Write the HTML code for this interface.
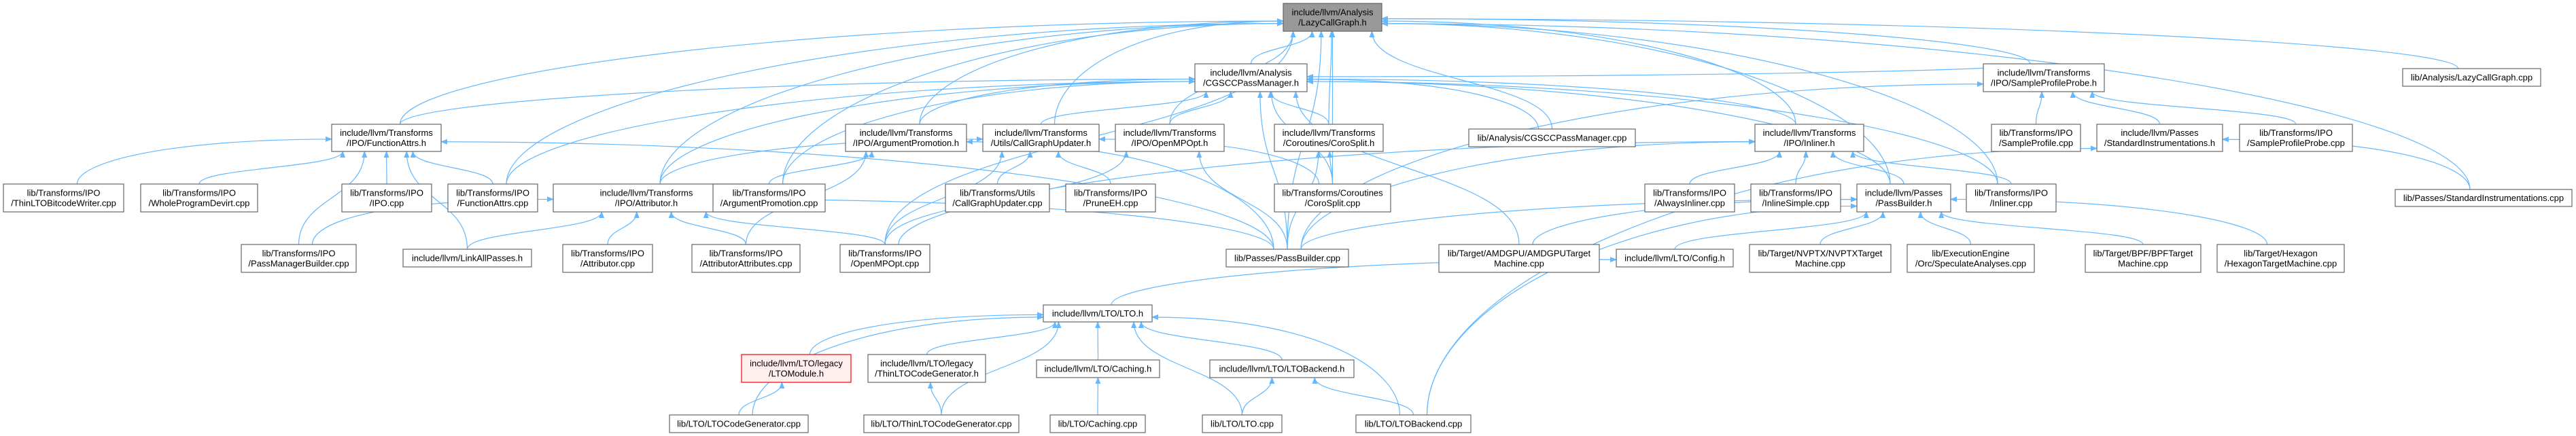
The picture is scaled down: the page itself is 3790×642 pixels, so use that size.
<!DOCTYPE html>
<html><head><meta charset="utf-8"><style>
html,body{margin:0;padding:0;background:#fff;width:3790px;height:642px;overflow:hidden}
svg text{font-family:"Liberation Sans",Arial,sans-serif;font-size:13px;fill:#000}
</style></head><body>
<svg id="g" width="3790" height="642" xmlns="http://www.w3.org/2000/svg">
<defs><marker id="ah" markerWidth="10" markerHeight="8" refX="9" refY="4" orient="auto" markerUnits="userSpaceOnUse"><path d="M0,0 L10,4 L0,8 z" fill="#63b8ff"/></marker></defs>
<g id="edges" fill="none" stroke="#63b8ff" stroke-width="1.2"></g>
<g id="nodes"></g>
</svg>
<script>
var R1=[5,46],R2=[94,135],R3=[183,223],R4=[271,312],R5=[360,401],R7=[522,563];
var N={
LCG:[1888,2033,5,46,["include/llvm/Analysis","/LazyCallGraph.h"],"hl"],
CGSCC:[1758,1923,94,135,["include/llvm/Analysis","/CGSCCPassManager.h"]],
SPPh:[2918,3096,94,135,["include/llvm/Transforms","/IPO/SampleProfileProbe.h"]],
LCGcpp:[3535,3738,101,127,["lib/Analysis/LazyCallGraph.cpp"]],
FAh:[488,649,183,223,["include/llvm/Transforms","/IPO/FunctionAttrs.h"]],
APh:[1244,1422,183,223,["include/llvm/Transforms","/IPO/ArgumentPromotion.h"]],
CGUh:[1446,1617,183,223,["include/llvm/Transforms","/Utils/CallGraphUpdater.h"]],
OMPh:[1641,1801,183,223,["include/llvm/Transforms","/IPO/OpenMPOpt.h"]],
COh:[1875,2035,183,223,["include/llvm/Transforms","/Coroutines/CoroSplit.h"]],
CGSCCcpp:[2161,2406,190,216,["lib/Analysis/CGSCCPassManager.cpp"]],
INh:[2582,2742,183,223,["include/llvm/Transforms","/IPO/Inliner.h"]],
SPcpp:[2930,3061,183,223,["lib/Transforms/IPO","/SampleProfile.cpp"]],
SIh:[3085,3270,183,223,["include/llvm/Passes","/StandardInstrumentations.h"]],
SPPcpp:[3295,3461,183,223,["lib/Transforms/IPO","/SampleProfileProbe.cpp"]],
TLBW:[5,182,271,312,["lib/Transforms/IPO","/ThinLTOBitcodeWriter.cpp"]],
WPD:[207,379,271,312,["lib/Transforms/IPO","/WholeProgramDevirt.cpp"]],
IPO:[503,635,271,312,["lib/Transforms/IPO","/IPO.cpp"]],
FAcpp:[659,791,271,312,["lib/Transforms/IPO","/FunctionAttrs.cpp"]],
ATh:[814,1088,271,312,["include/llvm/Transforms","/IPO/Attributor.h"]],
APcpp:[1049,1214,271,312,["lib/Transforms/IPO","/ArgumentPromotion.cpp"]],
CGUcpp:[1391,1544,271,312,["lib/Transforms/Utils","/CallGraphUpdater.cpp"]],
PEH:[1568,1700,271,312,["lib/Transforms/IPO","/PruneEH.cpp"]],
COcpp:[1875,2046,271,312,["lib/Transforms/Coroutines","/CoroSplit.cpp"]],
AIcpp:[2420,2552,271,312,["lib/Transforms/IPO","/AlwaysInliner.cpp"]],
ISh:[2576,2708,271,312,["lib/Transforms/IPO","/InlineSimple.cpp"]],
PBh:[2732,2870,271,312,["include/llvm/Passes","/PassBuilder.h"]],
INcpp:[2893,3025,271,312,["lib/Transforms/IPO","/Inliner.cpp"]],
SIcpp:[3524,3784,279,304,["lib/Passes/StandardInstrumentations.cpp"]],
PMB:[355,524,360,401,["lib/Transforms/IPO","/PassManagerBuilder.cpp"]],
LAP:[593,782,367,393,["include/llvm/LinkAllPasses.h"]],
ATcpp:[828,960,360,401,["lib/Transforms/IPO","/Attributor.cpp"]],
AAcpp:[1018,1177,360,401,["lib/Transforms/IPO","/AttributorAttributes.cpp"]],
OMPcpp:[1236,1368,360,401,["lib/Transforms/IPO","/OpenMPOpt.cpp"]],
PBcpp:[1804,1984,367,393,["lib/Passes/PassBuilder.cpp"]],
AMD:[2117,2353,360,401,["lib/Target/AMDGPU/AMDGPUTarget","Machine.cpp"]],
CFG:[2378,2550,367,393,["include/llvm/LTO/Config.h"]],
NVP:[2574,2782,360,401,["lib/Target/NVPTX/NVPTXTarget","Machine.cpp"]],
SPA:[2806,2993,360,401,["lib/ExecutionEngine","/Orc/SpeculateAnalyses.cpp"]],
BPF:[3068,3238,360,401,["lib/Target/BPF/BPFTarget","Machine.cpp"]],
HEX:[3262,3449,360,401,["lib/Target/Hexagon","/HexagonTargetMachine.cpp"]],
LTOh:[1535,1695,449,474,["include/llvm/LTO/LTO.h"]],
LMh:[1091,1252,522,563,["include/llvm/LTO/legacy","/LTOModule.h"],"red"],
TLCGh:[1277,1450,522,563,["include/llvm/LTO/legacy","/ThinLTOCodeGenerator.h"]],
CAh:[1525,1706,530,556,["include/llvm/LTO/Caching.h"]],
LBh:[1780,1992,530,556,["include/llvm/LTO/LTOBackend.h"]],
LCGcpp2:[985,1189,611,637,["lib/LTO/LTOCodeGenerator.cpp"]],
TLCGcpp:[1271,1499,611,637,["lib/LTO/ThinLTOCodeGenerator.cpp"]],
CAcpp:[1545,1685,611,637,["lib/LTO/Caching.cpp"]],
LTOcpp:[1769,1886,611,637,["lib/LTO/LTO.cpp"]],
LBcpp:[1995,2164,611,637,["lib/LTO/LTOBackend.cpp"]]
};
var E={
LCG:["CGSCC","FAh","ATh","APh","CGUh","OMPh","COh","CGSCCcpp","INh","PBh","SPPh","LCGcpp","SIcpp","INcpp","PBcpp","APcpp","FAcpp","OMPcpp","COcpp"],
CGSCC:["FAh","ATh","APh","CGUh","OMPh","COh","CGSCCcpp","INh","PBh","SPPh","PBcpp","AMD","INcpp","APcpp","FAcpp","COcpp"],
FAh:["TLBW","WPD","IPO","FAcpp","PMB","LAP","PBcpp"],
ATh:["PMB","LAP","ATcpp","AAcpp","OMPcpp","PBcpp"],
APh:["APcpp","AAcpp","PBcpp"],
CGUh:["ATh","CGUcpp","PEH","OMPcpp","COcpp"],
OMPh:["OMPcpp","PBcpp"],
COh:["COcpp","PBcpp"],
INh:["AIcpp","ISh","PBh","INcpp","PBcpp","OMPcpp"],
SPPh:["SPcpp","SIh","SPPcpp","PBcpp"],
SIh:["SIcpp","LBcpp"],
PBh:["PBcpp","AMD","CFG","NVP","SPA","BPF","HEX","LBcpp"],
CFG:["LTOh"],
LTOh:["LMh","TLCGh","CAh","LBh","LCGcpp2","TLCGcpp","LTOcpp","LBcpp"],
LMh:["LCGcpp2"],TLCGh:["TLCGcpp"],CAh:["CAcpp"],LBh:["LTOcpp","LBcpp"]
};
var ns="http://www.w3.org/2000/svg";
function el(t,a,p){var e=document.createElementNS(ns,t);for(var k in a)e.setAttribute(k,a[k]);p.appendChild(e);return e;}
var eg=document.getElementById("edges"),ng=document.getElementById("nodes");
function cx(n){return (n[0]+n[1])/2}
for(var t in E){var T=N[t];E[t].forEach(function(s){var S=N[s];var sx,sy,tx,ty,d;
 var dx=cx(S)-cx(T);
 if(S[2]<T[2]){ // source above target
  sx=cx(S);sy=S[3];tx=T[0]+20;ty=T[2];d="M"+sx+","+sy+" C"+sx+","+(sy+60)+" "+tx+","+(ty-50)+" "+tx+","+ty;
 } else if(Math.abs(dx)>420 && S[2]-T[3]<250 || Math.abs(dx)>700){
  sx=cx(S)+(dx>0?-20:20);sy=S[2];
  tx=dx>0?T[1]:T[0];ty=(T[2]+T[3])/2+(S[2]-T[3])*0.04;
  d="M"+sx+","+sy+" C"+sx+","+(sy-(sy-ty)*0.5)+" "+(tx+dx*0.5)+","+ty+" "+tx+","+ty;
 } else {
  sx=cx(S);sy=S[2];
  var w=T[1]-T[0];tx=cx(T)+Math.max(-w*0.4,Math.min(w*0.4,dx*0.25));ty=T[3];
  var my=(sy+ty)/2;d="M"+sx+","+sy+" C"+sx+","+my+" "+tx+","+my+" "+tx+","+ty;
 }
 el("path",{d:d,"marker-end":"url(#ah)"},eg);});}
for(var k in N){var n=N[k];var fill="#fff",st="#666";if(n[5]=="hl"){fill="#999";}if(n[5]=="red"){fill="#fee";st="#f00";}
 el("rect",{x:n[0],y:n[2],width:n[1]-n[0],height:n[3]-n[2],fill:fill,stroke:st,"stroke-width":1.2},ng);
 var L=n[4],c=cx(n),mid=(n[2]+n[3])/2;
 L.forEach(function(s,i){var y=mid+(i-(L.length-1)/2)*15+4.5;var tt=el("text",{x:c,y:y,"text-anchor":"middle"},ng);tt.textContent=s;});}
</script>
</body></html>
